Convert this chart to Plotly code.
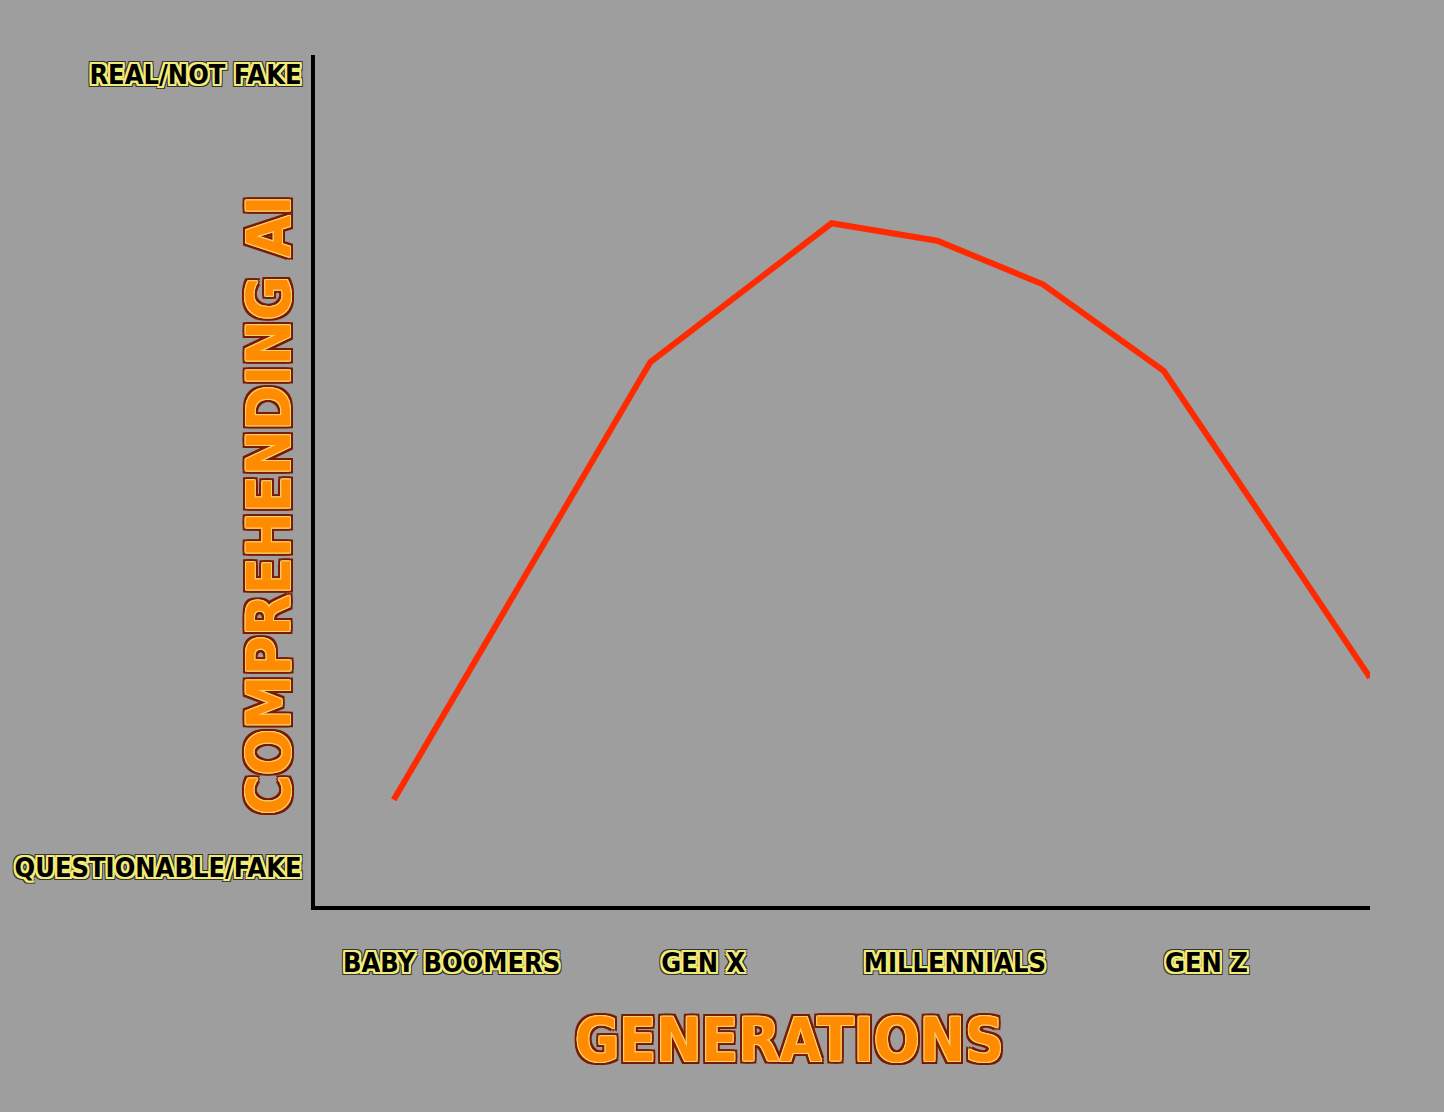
import plotly.graph_objects as go

# Data
categories = ["BABY BOOMERS", "GEN X", "MILLENNIALS", "GEN Z"]
category_pos = [1, 2, 3, 4]
y_tick_labels = ["QUESTIONABLE/FAKE", "REAL/NOT FAKE"]
y_tick_vals = [0, 100]
line_x = [0.77, 1.28, 1.79, 2.51, 2.93, 3.35, 3.83, 4.24, 4.65]
line_y = [8.6, 36.3, 63.8, 81.3, 79.1, 73.6, 62.7, 43.4, 24.0]

BG = "#9E9E9E"
YEL = "#F2EC78"
RED_OUT = "#7A1A00"


def outline(color, w):
    parts = []
    for dx in (-w, 0, w):
        for dy in (-w, 0, w):
            if dx or dy:
                parts.append(f"{dx}px {dy}px 0 {color}")
    return ", ".join(parts)


FAMILY = "DejaVu Sans Condensed, DejaVu Sans, sans-serif"
tick_font = dict(family=FAMILY, size=27, color="black", weight="bold",
                 shadow=outline(YEL, 2) + ", " + outline("#333333", 3))
title_font = dict(family=FAMILY, size=60, color="#FF8C00", weight="bold",
                  shadow=outline("#F7D070", 1) + ", " + outline(RED_OUT, 3))

fig = go.Figure()
fig.add_trace(go.Scatter(x=line_x, y=line_y, mode="lines",
                         line=dict(color="#FF2A00", width=6),
                         hoverinfo="skip", showlegend=False))

fig.update_layout(
    width=1444, height=1112,
    paper_bgcolor=BG, plot_bgcolor=BG,
    margin=dict(l=315, r=74, t=55, b=206),
    showlegend=False,
    xaxis=dict(range=[0.457, 4.65], tickvals=category_pos, ticktext=categories,
               showgrid=False, zeroline=False, automargin=False,
               showline=True, linecolor="black", linewidth=4,
               ticks="", tickfont=tick_font, ticklabelstandoff=30,
               fixedrange=True),
    yaxis=dict(range=[-4.79, 102.52], tickvals=y_tick_vals, ticktext=y_tick_labels,
               showgrid=False, zeroline=False, automargin=False,
               showline=True, linecolor="black", linewidth=4,
               ticks="", tickfont=tick_font, ticklabelstandoff=4,
               fixedrange=True),
    annotations=[
        dict(text="GENERATIONS", xref="paper", yref="paper", x=0.45, y=-0.157,
             xanchor="center", yanchor="middle", showarrow=False, font=title_font),
        dict(text="COMPREHENDING AI", xref="paper", yref="paper", x=-0.043, y=0.471,
             xanchor="center", yanchor="middle", textangle=-90, showarrow=False,
             font=title_font),
    ],
)

fig.write_html("out.html", config={"displayModeBar": False},
               post_script="document.body.style.margin='0';")
